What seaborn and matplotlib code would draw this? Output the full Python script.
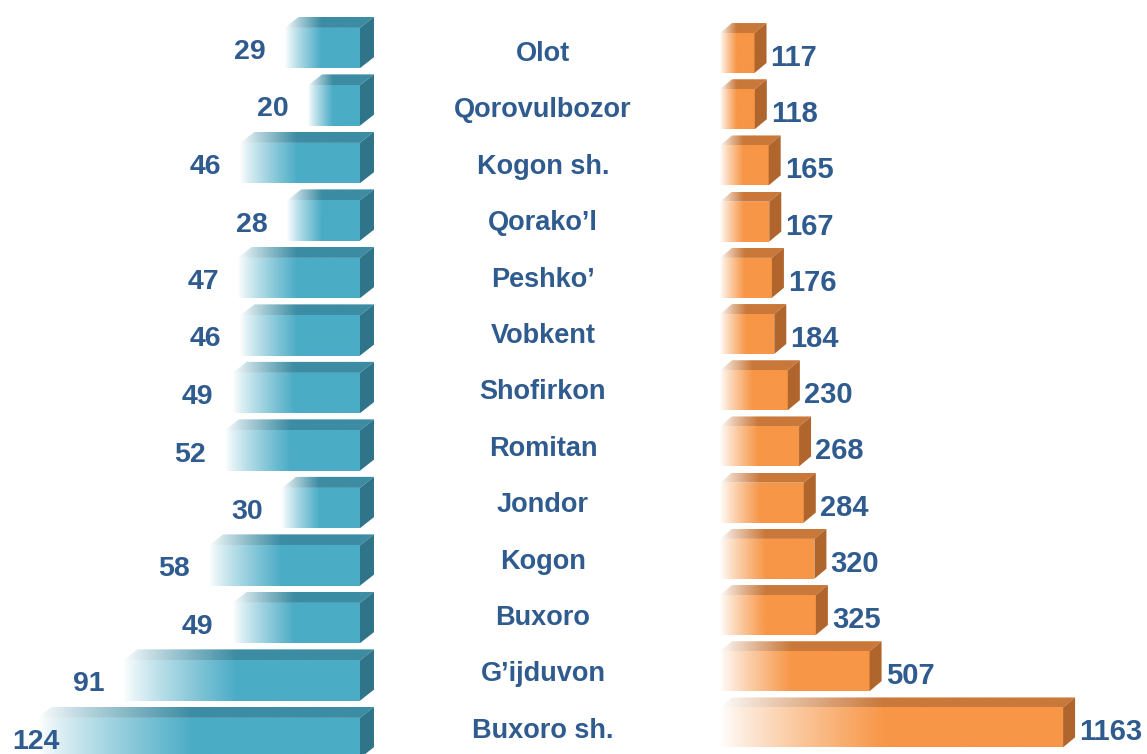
import numpy as np
import pandas as pd
import matplotlib
matplotlib.use("Agg")
import matplotlib.pyplot as plt
from matplotlib.patches import Polygon
from matplotlib.colors import to_rgb
import seaborn as sns

districts = ["Olot", "Qorovulbozor", "Kogon sh.", "Qorako’l", "Peshko’", "Vobkent",
             "Shofirkon", "Romitan", "Jondor", "Kogon", "Buxoro", "G’ijduvon", "Buxoro sh."]
left_values = [29, 20, 46, 28, 47, 46, 49, 52, 30, 58, 49, 91, 124]
right_values = [117, 118, 165, 167, 176, 184, 230, 268, 284, 320, 325, 507, 1163]

blue, blue_top, blue_side = "#4BACC6", "#3C8CA3", "#2F7489"
orange, orange_top, orange_side = "#F79646", "#C9783A", "#B0652C"
text_col = "#2F5B8F"

sns.set_style("white")
plt.rcParams["font.family"] = ["Liberation Sans", "DejaVu Sans"]

W, H = 1147, 754
fig = plt.figure(figsize=(W / 100, H / 100), dpi=100)
ax_l = fig.add_axes([0, 0, 400 / W, 1])
ax_r = fig.add_axes([680 / W, 0, 467 / W, 1])

df = pd.DataFrame({"district": districts, "left": left_values, "right": right_values})
sns.barplot(data=df, x="left", y="district", orient="h", width=0.70,
            color=blue, errorbar=None, ax=ax_l)
sns.barplot(data=df, x="right", y="district", orient="h", width=0.71,
            color=orange, errorbar=None, ax=ax_r)

# pixel scale of each panel
ax_l.set_xlim(360 / 2.6, -40 / 2.6)
ax_l.set_ylim((H - 48) / 57.5, -48 / 57.5)
ax_r.set_xlim(-40 / 0.295, 427 / 0.295)
ax_r.set_ylim((H - 53) / 56.2, -53 / 56.2)
for ax in (ax_l, ax_r):
    ax.set_axis_off()
    ax.set_autoscale_on(False)


def to_data(ax, pts):
    return ax.transData.inverted().transform(np.asarray(pts, dtype=float))


def gradient(color, n, fade, span):
    # white at display-left, full colour after `fade` of the front face
    c = np.array(to_rgb(color))
    t = np.linspace(0, span, n)
    s = np.clip(t / fade, 0, 1) ** 0.85
    row = (1 - s)[:, None] * np.ones(3) + s[:, None] * c
    return np.repeat(row[None, :, :], 2, axis=0)


def fill_poly(ax, pts_disp, color, fade, xl, xr):
    pts = to_data(ax, pts_disp)
    poly = Polygon(pts, closed=True, facecolor="none", edgecolor="none", transform=ax.transData)
    ax.add_patch(poly)
    xs = [p[0] for p in pts_disp]
    ys = [p[1] for p in pts_disp]
    lo, hi = min(xs), max(xs)
    span = (hi - xl) / (xr - xl)
    img = gradient(color, 300, fade, span)
    a = to_data(ax, [(lo, min(ys)), (hi, max(ys))])
    im = ax.imshow(img, extent=(a[0][0], a[1][0], a[0][1], a[1][1]),
                   aspect="auto", interpolation="bilinear", zorder=2)
    im.set_clip_path(poly)


def draw_3d(ax, bar, face, top, side, dx=14, dy=11, fade=0.48):
    x0, y0, w, h = bar.get_x(), bar.get_y(), bar.get_width(), bar.get_height()
    bar.set_facecolor("none")
    bar.set_edgecolor("none")
    c = ax.transData.transform([(x0, y0), (x0 + w, y0 + h)])
    xl, xr = c[:, 0].min(), c[:, 0].max()
    yb, yt = c[:, 1].min(), c[:, 1].max()
    fill_poly(ax, [(xl, yb), (xr, yb), (xr, yt), (xl, yt)], face, fade, xl, xr)
    fill_poly(ax, [(xl, yt), (xr, yt), (xr + dx, yt + dy), (xl + dx, yt + dy)], top, fade, xl, xr)
    side_pts = to_data(ax, [(xr, yb), (xr, yt), (xr + dx, yt + dy), (xr + dx, yb + dy)])
    ax.add_patch(Polygon(side_pts, closed=True, facecolor=side, edgecolor="none", zorder=3))
    return xl, xr, (yb + yt) / 2


for bar, v in zip(ax_l.patches, left_values):
    xl, xr, yc = draw_3d(ax_l, bar, blue, blue_top, blue_side)
    pos = to_data(ax_l, [(max(xl - 19, 60), yc - 4)])[0]
    ax_l.text(pos[0], pos[1], str(v), ha="right", va="center", fontsize=20.5,
              fontweight="bold", color=text_col)

for bar, v in zip(ax_r.patches, right_values):
    xl, xr, yc = draw_3d(ax_r, bar, orange, orange_top, orange_side, dx=12, dy=10)
    pos = to_data(ax_r, [(xr + 16, yc - 5)])[0]
    ax_r.text(pos[0], pos[1], str(v), ha="left", va="center", fontsize=21,
              fontweight="bold", color=text_col, clip_on=False)

# district names in the middle column
for i, name in enumerate(districts):
    y = 54 + 56.4 * i
    fig.text(543 / W, 1 - y / H, name, ha="center", va="center", fontsize=19.5,
             fontweight="bold", color=text_col)

fig.savefig("out.png", dpi=100)
